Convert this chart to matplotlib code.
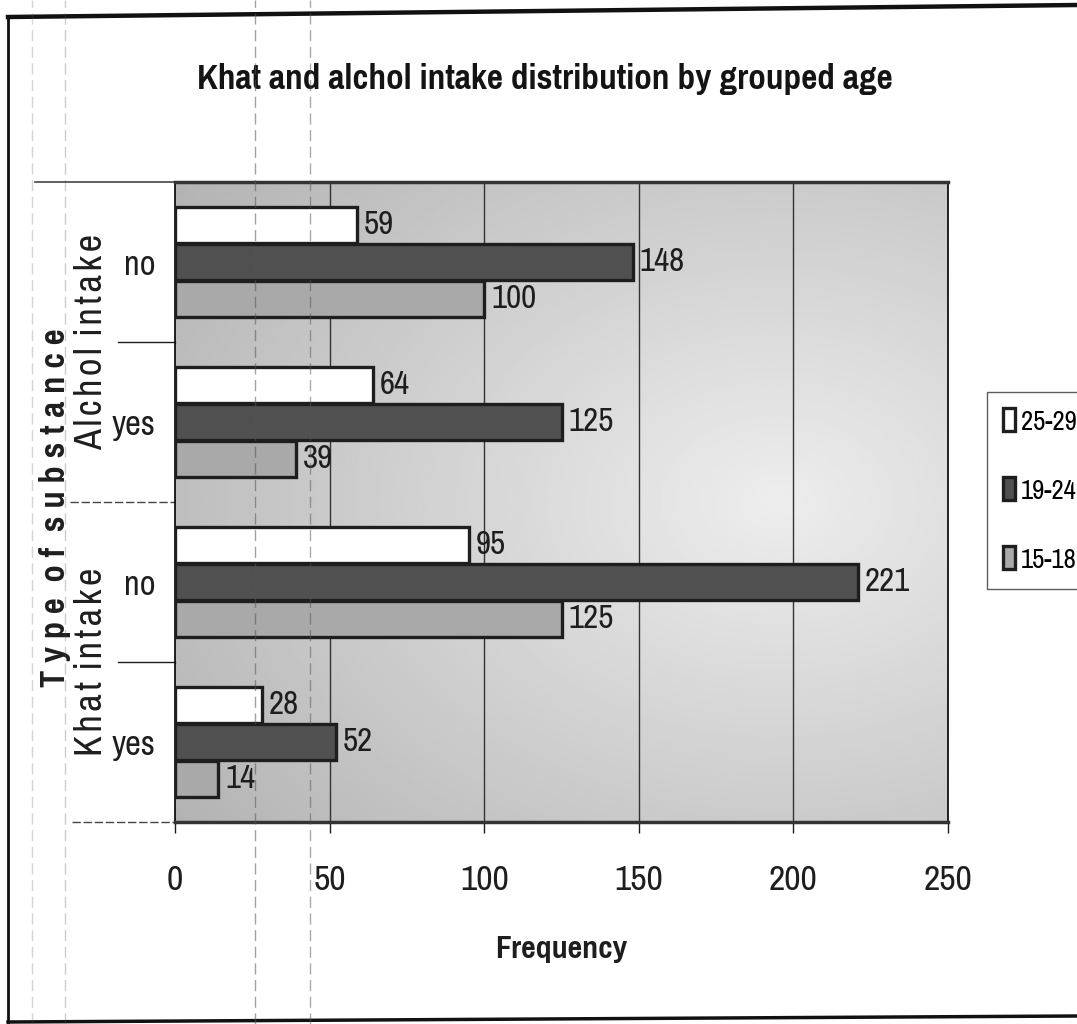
import numpy as np
import matplotlib
matplotlib.use("Agg")
import matplotlib.pyplot as plt
from matplotlib.lines import Line2D
from matplotlib.transforms import blended_transform_factory

plt.rcParams['font.family'] = ['Pragati Narrow', 'Liberation Sans', 'DejaVu Sans']

# groups listed from the top of the chart to the bottom
substances = ["Alchol intake", "Alchol intake", "Khat intake", "Khat intake"]
answers = ["no", "yes", "no", "yes"]
age_groups = ["25-29", "19-24", "15-18"]
freq_25_29 = [59, 64, 95, 28]
freq_19_24 = [148, 125, 221, 52]
freq_15_18 = [100, 39, 125, 14]

bar_colors = ["#ffffff", "#505050", "#a9a9a9"]
ink = "#1e1e1e"
HAIR = "\u200a"


def spaced(s, gap=HAIR):
    # letter-spaced label, wider gap between words
    return (" " + gap).join(gap.join(w) for w in s.split())


fig = plt.figure(figsize=(10.77, 10.24), dpi=100)
ax = fig.add_axes([175 / 1077, 1 - 822 / 1024, 773 / 1077, 640 / 1024])

n = len(answers)
ypos = np.arange(n)[::-1]  # first group on top
ax.set_xlim(0, 250)
ax.set_ylim(-0.5, n - 0.5)

# shaded plot background, lighter towards the right-hand middle
gx, gy = np.meshgrid(np.linspace(0, 1, 300), np.linspace(0, 1, 300))
shade = 0.93 - 0.2 * np.sqrt(((gx - 0.78) / 0.85) ** 2 + ((gy - 0.5) / 0.75) ** 2)
ax.imshow(shade, cmap="gray", vmin=0, vmax=1, origin="lower", aspect="auto",
          extent=(0, 250, -0.5, n - 0.5), zorder=0, interpolation="bilinear")

step = 0.232
height = 0.225
series = [freq_25_29, freq_19_24, freq_15_18]
for i, (vals, color, lab) in enumerate(zip(series, bar_colors, age_groups)):
    off = step * (1 - i)
    bars = ax.barh(ypos + off, vals, height=height, color=color,
                   edgecolor=ink, linewidth=2.4, label=lab, zorder=3)
    for b, v in zip(bars, vals):
        ax.text(v + 2.2, b.get_y() + b.get_height() / 2, str(v), ha="left",
                va="center", fontsize=26, color=ink, zorder=4)

# gridlines
for gxv in [50, 100, 150, 200]:
    ax.axvline(gxv, color="#333333", linewidth=1, zorder=1)

for side in ["left", "right"]:
    ax.spines[side].set_linewidth(1.2)
ax.spines["top"].set_linewidth(2.5)
ax.spines["bottom"].set_linewidth(2.5)
ax.spines["top"].set_color("#333333")
ax.spines["bottom"].set_color("#333333")

ax.set_xticks([0, 50, 100, 150, 200, 250])
ax.tick_params(axis="x", length=8, width=1, pad=22, labelsize=28, colors=ink)
ax.set_yticks(ypos)
ax.set_yticklabels(answers)
ax.tick_params(axis="y", length=0, pad=14, labelsize=27, colors=ink)

ax.set_xlabel("Frequency", fontsize=25, fontweight="bold", labelpad=28, color=ink)

# category separators of the two-level axis
tr = blended_transform_factory(ax.transAxes, ax.transData)
ax.plot([-0.074, 0], [2.5, 2.5], transform=tr, color=ink, lw=1, clip_on=False)
ax.plot([-0.074, 0], [0.5, 0.5], transform=tr, color=ink, lw=1, clip_on=False)
ax.plot([-0.136, 0], [1.5, 1.5], transform=tr, color="#444444", lw=1,
        ls=(0, (6, 2)), clip_on=False)
ax.plot([-0.133, 0], [-0.5, -0.5], transform=tr, color="#444444", lw=1,
        ls=(0, (6, 2)), clip_on=False)
ax.plot([-0.181, 0], [3.5, 3.5], transform=tr, color="#444444", lw=1.2, clip_on=False)

# outer level labels
for name in dict.fromkeys(substances):
    idx = [k for k, s in enumerate(substances) if s == name]
    yc = np.mean(ypos[idx])
    ax.text(-0.108, yc, spaced(name), transform=tr,
            rotation=90, ha="center", va="center", fontsize=30, color=ink)

fig.text(55 / 1077, 1 - 508 / 1024, spaced("Type of substance", " "), rotation=90,
         ha="center", va="center", fontsize=27, fontweight="bold", color=ink)

fig.text(545 / 1077, 1 - 89 / 1024, "Khat and alchol intake distribution by grouped age",
         ha="center", va="baseline", fontsize=27.5, fontweight="bold", color="#141414")

leg = fig.legend(loc="upper left", bbox_to_anchor=(987 / 1077, 1 - 392 / 1024),
                 fontsize=21, frameon=True, fancybox=False, edgecolor="#333333",
                 handlelength=0.4, handleheight=0.85, handletextpad=0.2,
                 labelspacing=1.45, borderpad=0.55, borderaxespad=0)
leg.get_frame().set_linewidth(1)

# page frame
fig.add_artist(Line2D([8 / 1077, 1], [1 - 17 / 1024, 1 - 5 / 1024],
                      transform=fig.transFigure, color="#111111", lw=3.2))
fig.add_artist(Line2D([8 / 1077, 8 / 1077], [0, 1 - 17 / 1024],
                      transform=fig.transFigure, color="#111111", lw=2))
fig.add_artist(Line2D([8 / 1077, 1], [1 - 1022 / 1024, 1 - 1016 / 1024],
                      transform=fig.transFigure, color="#111111", lw=2.5))

# faint fold lines running down the sheet
for fx, a in [(255, 0.55), (310, 0.5), (65, 0.3), (32, 0.25)]:
    fig.add_artist(Line2D([fx / 1077, fx / 1077], [0, 1], transform=fig.transFigure,
                          color="#555555", lw=1, ls=(0, (8, 4)), alpha=a, zorder=10))

fig.savefig("out.png", dpi=100, facecolor="white")
